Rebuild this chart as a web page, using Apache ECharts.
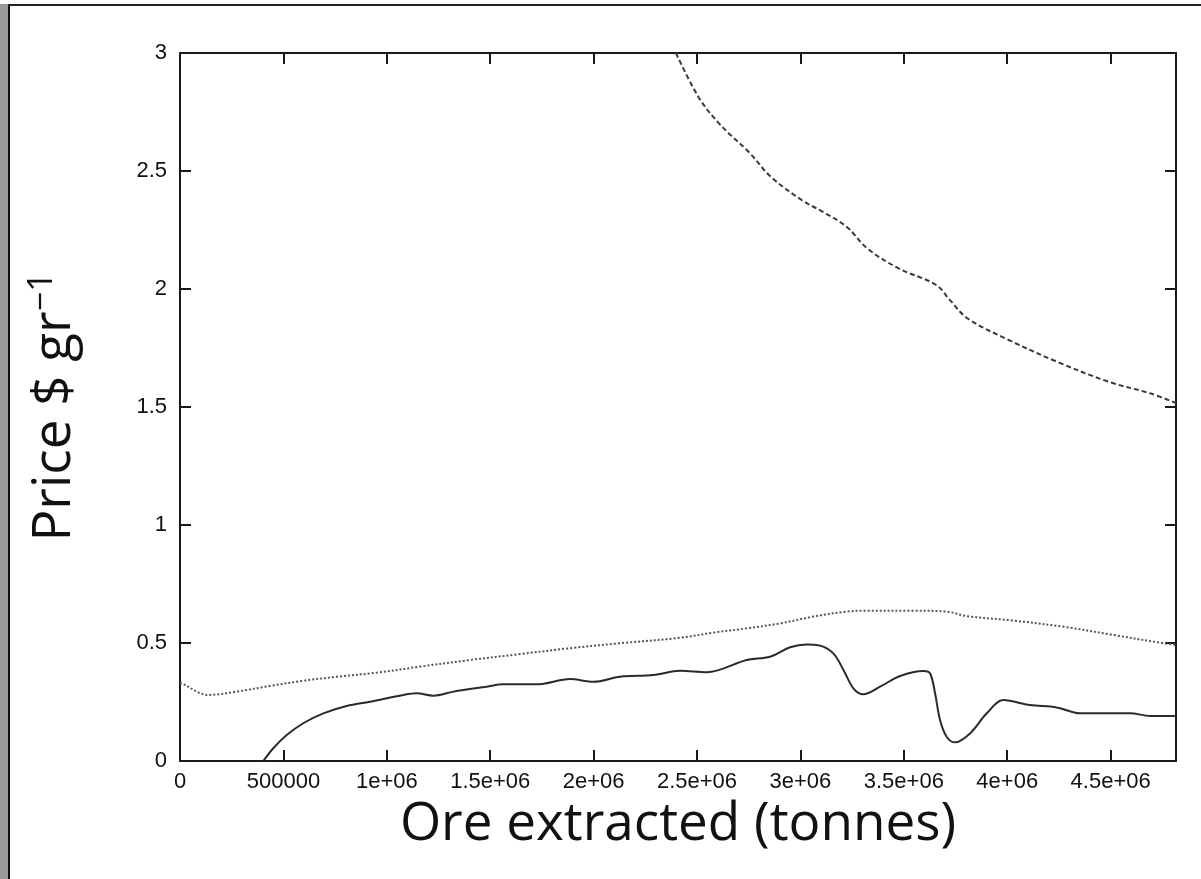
<!DOCTYPE html>
<html>
<head>
<meta charset="utf-8">
<title>Price vs ore extracted</title>
<script src="https://cdn.jsdelivr.net/npm/echarts@6/dist/echarts.min.js"></script>
<style>
  html, body { margin: 0; padding: 0; background: #fff; }
  #chart { width: 1201px; height: 879px; }
</style>
</head>
<body>
<div id="chart"></div>
<script>
// Axis ranges and ticks
const xTickStep = 500000;
const xMax = 4816000;
const yTickStep = 0.5;
const yMax = 3;

// Curves: [ore extracted (tonnes), price ($/gr)]
const solidCurve = [
  [403000, 0], [451000, 0.054], [516000, 0.110], [596000, 0.160], [693000, 0.202],
  [806000, 0.233], [919000, 0.251], [1080000, 0.280], [1145000, 0.287], [1225000, 0.277],
  [1322000, 0.294], [1483000, 0.315], [1564000, 0.325], [1725000, 0.325], [1886000, 0.347],
  [1999000, 0.336], [2128000, 0.357], [2289000, 0.364], [2418000, 0.382], [2547000, 0.376],
  [2740000, 0.428], [2853000, 0.442], [2950000, 0.482], [3030000, 0.494], [3095000, 0.489],
  [3159000, 0.456], [3208000, 0.386], [3256000, 0.308], [3304000, 0.283], [3385000, 0.315],
  [3482000, 0.360], [3595000, 0.381], [3627000, 0.371], [3651000, 0.287], [3675000, 0.174],
  [3707000, 0.103], [3747000, 0.079], [3820000, 0.117], [3901000, 0.202], [3981000, 0.258],
  [4110000, 0.237], [4239000, 0.227], [4352000, 0.202], [4594000, 0.202], [4691000, 0.191],
  [4810000, 0.191]
];

const dottedCurve = [
  [0, 0.331], [8000, 0.329], [137000, 0.280], [274000, 0.294], [435000, 0.318],
  [596000, 0.340], [758000, 0.357], [951000, 0.374], [1161000, 0.400], [1402000, 0.428],
  [1644000, 0.453], [1886000, 0.478], [2128000, 0.499], [2418000, 0.522], [2579000, 0.544],
  [2740000, 0.562], [2901000, 0.583], [3063000, 0.612], [3224000, 0.633], [3321000, 0.637],
  [3546000, 0.637], [3707000, 0.633], [3804000, 0.614], [4030000, 0.595], [4272000, 0.569],
  [4514000, 0.534], [4755000, 0.499], [4816000, 0.492]
];

const dashedCurve = [
  [2398000, 3.0], [2506000, 2.815], [2606000, 2.702], [2756000, 2.575], [2856000, 2.476],
  [3006000, 2.377], [3106000, 2.328], [3223000, 2.264], [3323000, 2.172], [3473000, 2.088],
  [3657000, 2.017], [3723000, 1.953], [3807000, 1.876], [4007000, 1.784], [4240000, 1.692],
  [4490000, 1.607], [4690000, 1.558], [4816000, 1.517]
];

const axisColor = '#1a1a1a';
const tickFont = 'Liberation Sans, Arial, sans-serif';
const titleFont = 'Open Sans, DejaVu Sans, sans-serif';

function xLabel(v) {
  if (Math.abs(v / xTickStep - Math.round(v / xTickStep)) > 1e-6) return '';
  if (v === 0) return '0';
  if (v < 1e6) return String(v);
  return (v / 1e6) + 'e+06';
}

const frameAxis = {
  axisLine: { show: true, onZero: false, lineStyle: { color: axisColor, width: 2 } },
  axisTick: { show: true, inside: true, length: 11, lineStyle: { color: axisColor, width: 2 } },
  splitLine: { show: false }
};

const chart = echarts.init(document.getElementById('chart'), null, { renderer: 'canvas' });

chart.setOption({
  animation: false,
  backgroundColor: '#fff',
  grid: { left: 180, right: 25, top: 53, bottom: 118, containLabel: false },
  graphic: [
    { type: 'rect', shape: { x: 0, y: 4, width: 8, height: 875 }, style: { fill: '#9a9a9a' }, silent: true },
    { type: 'line', shape: { x1: 9, y1: 5, x2: 9, y2: 879 }, style: { stroke: '#111', lineWidth: 2 }, silent: true },
    { type: 'line', shape: { x1: 8, y1: 5, x2: 1201, y2: 5 }, style: { stroke: '#222', lineWidth: 2 }, silent: true }
  ],
  xAxis: [
    Object.assign({}, frameAxis, {
      type: 'value', position: 'bottom', min: 0, max: xMax, interval: xTickStep,
      axisLabel: { formatter: xLabel, fontSize: 22, color: '#111', fontFamily: tickFont, margin: 10 },
      name: 'Ore extracted (tonnes)', nameLocation: 'middle', nameGap: 37,
      nameTextStyle: { fontSize: 53, fontFamily: titleFont, color: '#111' }
    }),
    Object.assign({}, frameAxis, {
      type: 'value', position: 'top', min: 0, max: xMax, interval: xTickStep,
      axisLabel: { show: false }
    })
  ],
  yAxis: [
    Object.assign({}, frameAxis, {
      type: 'value', position: 'left', min: 0, max: yMax, interval: yTickStep,
      axisLabel: { formatter: v => String(v), fontSize: 22, color: '#111', fontFamily: tickFont, margin: 13 },
      name: '{m|Price $ gr}{s|−1}', nameLocation: 'middle', nameRotate: 90, nameGap: 95,
      nameTextStyle: {
        color: '#111',
        rich: {
          m: { fontSize: 53, fontFamily: titleFont, color: '#111', lineHeight: 60 },
          s: { fontSize: 34, fontFamily: titleFont, color: '#111', verticalAlign: 'top', lineHeight: 34 }
        }
      }
    }),
    Object.assign({}, frameAxis, {
      type: 'value', position: 'right', min: 0, max: yMax, interval: yTickStep,
      axisLabel: { show: false }
    })
  ],
  series: [
    {
      type: 'line', name: 'solid', data: solidCurve, xAxisIndex: 0, yAxisIndex: 0,
      showSymbol: false, smooth: 0.35, clip: true,
      lineStyle: { color: '#2a2a2a', width: 2, type: 'solid' }
    },
    {
      type: 'line', name: 'dotted', data: dottedCurve, xAxisIndex: 0, yAxisIndex: 0,
      showSymbol: false, smooth: 0.35, clip: true,
      lineStyle: { color: '#555', width: 2, type: [2, 2] }
    },
    {
      type: 'line', name: 'dashed', data: dashedCurve, xAxisIndex: 0, yAxisIndex: 0,
      showSymbol: false, smooth: 0.35, clip: true,
      lineStyle: { color: '#3a3a3a', width: 2, type: [5, 3] }
    }
  ]
});
</script>
</body>
</html>
